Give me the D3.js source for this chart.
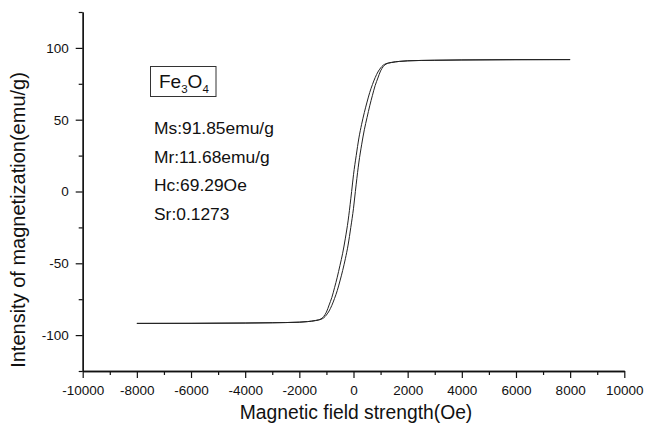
<!DOCTYPE html>
<html>
<head>
<meta charset="utf-8">
<script src="https://cdn.jsdelivr.net/npm/d3@7"></script>
<style>
  body { margin: 0; background: #fff; }
  svg { display: block; }
  text { font-family: "Liberation Sans", Arial, sans-serif; fill: #111; }
</style>
</head>
<body>
<div class="loop-chart"></div>
<script>
// descending branch (from +saturation), listed by increasing field
var descField = [-8000, -6000, -4000, -3000, -2000, -1700, -1400, -1200, -1100, -1000,
                 -900, -800, -700, -600, -500, -400, -300, -200, -100, -69,
                 0, 100, 200, 300, 400, 500, 600, 700, 800, 900,
                 1000, 1100, 1200, 1400, 1700, 2000, 3000, 4000, 6000, 8000];
var descMag = [-91.85, -91.8, -91.6, -91.4, -91.0, -90.6, -89.8, -88.7, -87.0, -84.0,
               -79.0, -73.8, -67.0, -59.7, -51.5, -43.0, -32.5, -20.5, -5.1, 0,
               11.68, 25.0, 37.3, 46.8, 55.0, 62.3, 69.0, 74.5, 79.3, 83.2,
               86.0, 88.0, 89.0, 89.9, 90.6, 91.0, 91.4, 91.6, 91.8, 91.85];

// ascending branch (from -saturation)
var ascField = [-8000, -6000, -4000, -3000, -2000, -1700, -1400, -1200, -1100, -1000,
                -900, -800, -700, -600, -500, -400, -300, -200, -100, 0,
                69, 100, 200, 300, 400, 500, 600, 700, 800, 900,
                1000, 1100, 1200, 1400, 1700, 2000, 3000, 4000, 6000, 8000];
var ascMag = [-91.85, -91.8, -91.6, -91.4, -91.0, -90.6, -89.9, -89.0, -88.0, -86.0,
              -83.2, -79.3, -74.5, -69.0, -62.3, -55.0, -46.8, -37.3, -25.0, -11.68,
              0, 5.1, 20.5, 32.5, 43.0, 51.5, 59.7, 67.0, 73.8, 79.0,
              84.0, 87.0, 88.7, 89.8, 90.6, 91.0, 91.4, 91.6, 91.8, 91.85];

var xTicks = [-10000, -8000, -6000, -4000, -2000, 0, 2000, 4000, 6000, 8000, 10000];
var xMinor = [-9000, -7000, -5000, -3000, -1000, 1000, 3000, 5000, 7000, 9000];
var yTicks = [-100, -50, 0, 50, 100];
var yMinor = [-125, -75, -25, 25, 75, 125];

var stats = ["Ms:91.85emu/g", "Mr:11.68emu/g", "Hc:69.29Oe", "Sr:0.1273"];

var width = 645;
var height = 429;

var svg = d3.select(".loop-chart")
            .append("svg")
              .attr("width", width)
              .attr("height", height);

var x = d3.scaleLinear().domain([-10000, 10000]).range([82.7, 624.3]);
var y = d3.scaleLinear().domain([-125, 125]).range([371, 12]);

// plain hyphen minus like the original
var plain = function(d) { return String(d); };

// x axis: minor then major ticks
svg.append("g")
   .attr("transform", "translate(0,371)")
   .call(d3.axisBottom(x).tickValues(xMinor).tickSize(4).tickSizeOuter(0).tickFormat(""));
var xAxis = svg.append("g")
   .attr("transform", "translate(0,371)")
   .call(d3.axisBottom(x).tickValues(xTicks).tickSize(7).tickSizeOuter(0).tickPadding(7)
           .tickFormat(plain));
xAxis.selectAll("text").attr("font-size", "13.5px");

// y axis
svg.append("g")
   .attr("transform", "translate(82.7,0)")
   .call(d3.axisLeft(y).tickValues(yMinor).tickSize(4).tickSizeOuter(0).tickFormat(""));
var yAxis = svg.append("g")
   .attr("transform", "translate(82.7,0)")
   .call(d3.axisLeft(y).tickValues(yTicks).tickSize(7).tickSizeOuter(0).tickPadding(7)
           .tickFormat(plain));
yAxis.selectAll("text").attr("font-size", "13.5px");

svg.selectAll(".domain").attr("stroke", "#111").attr("stroke-width", 1.3);
svg.selectAll(".tick line").attr("stroke", "#111").attr("stroke-width", 1.2);
svg.selectAll(".tick text").attr("fill", "#111").attr("font-family", "Liberation Sans, Arial, sans-serif");

// hysteresis branches
var line = d3.line()
   .x(function(d) { return x(d[0]); })
   .y(function(d) { return y(d[1]); })
   .curve(d3.curveMonotoneX);

[d3.zip(descField, descMag), d3.zip(ascField, ascMag)].forEach(function(branch) {
  svg.append("path")
     .datum(branch)
     .attr("d", line)
     .attr("fill", "none")
     .attr("stroke", "#222")
     .attr("stroke-width", 1);
});

// axis titles
svg.append("text")
   .attr("x", 356)
   .attr("y", 419)
   .attr("text-anchor", "middle")
   .attr("font-size", "19.3px")
   .text("Magnetic field strength(Oe)");

svg.append("text")
   .attr("transform", "translate(25,220) rotate(-90)")
   .attr("text-anchor", "middle")
   .attr("font-size", "20px")
   .text("Intensity of magnetization(emu/g)");

// sample label box
svg.append("rect")
   .attr("x", 150.5)
   .attr("y", 66.5)
   .attr("width", 65.5)
   .attr("height", 30)
   .attr("fill", "none")
   .attr("stroke", "#333")
   .attr("stroke-width", 1);

var label = svg.append("text")
   .attr("x", 159)
   .attr("y", 88)
   .attr("font-size", "19px");
label.append("tspan").text("Fe");
label.append("tspan").attr("font-size", "11.5px").attr("dy", 5).text("3");
label.append("tspan").attr("dy", -5).text("O");
label.append("tspan").attr("font-size", "11.5px").attr("dy", 5).text("4");

svg.selectAll(".stat")
   .data(stats)
   .enter()
   .append("text")
   .attr("class", "stat")
   .attr("x", 154)
   .attr("y", function(d, i) { return 134 + i * 28.5; })
   .attr("font-size", "17.4px")
   .text(function(d) { return d; });
</script>
</body>
</html>
